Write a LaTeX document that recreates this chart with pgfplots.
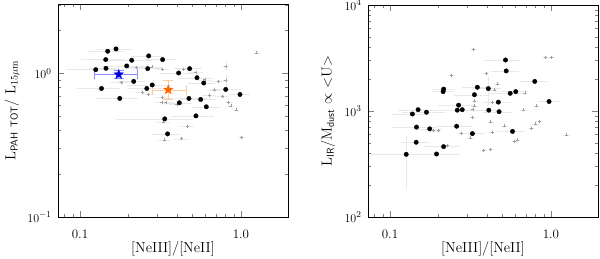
\documentclass[border=0pt]{standalone}
\usepackage{pgfplots}
\pgfplotsset{compat=1.18}
\usepackage{pgfplotstable}

\pgfdeclareplotmark{fstar}{%
  \pgfpathmoveto{\pgfpointpolar{90}{\pgfplotmarksize}}%
  \pgfpathlineto{\pgfpointpolar{126}{0.42\pgfplotmarksize}}%
  \pgfpathlineto{\pgfpointpolar{162}{\pgfplotmarksize}}%
  \pgfpathlineto{\pgfpointpolar{198}{0.42\pgfplotmarksize}}%
  \pgfpathlineto{\pgfpointpolar{234}{\pgfplotmarksize}}%
  \pgfpathlineto{\pgfpointpolar{270}{0.42\pgfplotmarksize}}%
  \pgfpathlineto{\pgfpointpolar{306}{\pgfplotmarksize}}%
  \pgfpathlineto{\pgfpointpolar{342}{0.42\pgfplotmarksize}}%
  \pgfpathlineto{\pgfpointpolar{18}{\pgfplotmarksize}}%
  \pgfpathlineto{\pgfpointpolar{54}{0.42\pgfplotmarksize}}%
  \pgfpathclose
  \pgfusepathqfillstroke
}

\pgfplotstableread{
x y ex ey
0.1675 1.48 0.26 0.03
0.1486 1.425 0.25 0.03
0.267 1.323 0.22 0.03
0.1445 1.247 0.3 0.03
0.2095 1.233 0.35 0.03
0.326 1.247 0.22 0.03
0.195 1.126 0.3 0.03
0.145 1.084 0.22 0.03
0.1252 1.061 0.35 0.03
0.2634 1.079 0.25 0.03
0.48 1.079 0.2 0.03
0.41 1.006 0.25 0.03
0.533 0.933 0.25 0.04
0.2156 0.879 0.2 0.04
0.587 0.857 0.2 0.04
0.281 0.83 0.3 0.04
0.26 0.785 0.25 0.04
0.136 0.785 0.3 0.04
0.804 0.773 0.2 0.04
0.986 0.713 0.15 0.04
0.1765 0.669 0.3 0.04
0.475 0.669 0.3 0.04
0.562 0.658 0.25 0.04
0.414 0.624 0.2 0.04
0.609 0.585 0.2 0.04
0.525 0.506 0.3 0.04
0.336 0.482 0.5 0.05
0.35 0.379 0.2 0.05
}\leftblack

\pgfplotstableread{
x y ex ey
1.25 1.39 0.05 0.02
0.225 1.10 0.15 0.03
0.279 1.11 0.15 0.03
0.326 1.07 0.1 0.03
0.1815 0.865 0.15 0.04
0.244 0.736 0.1 0.04
0.266 0.718 0.1 0.04
0.324 0.679 0.1 0.04
0.342 0.627 0.1 0.04
0.323 0.627 0.1 0.04
0.329 0.459 0.1 0.04
0.334 0.344 0.1 0.04
0.807 1.12 0.05 0.08
0.438 1.07 0.1 0.03
0.525 1.016 0.1 0.03
0.597 0.904 0.1 0.04
0.723 0.879 0.1 0.04
0.804 0.899 0.05 0.1
0.68 0.769 0.1 0.04
0.636 0.706 0.1 0.04
0.77 0.69 0.1 0.04
0.399 0.611 0.1 0.04
0.834 0.627 0.05 0.04
0.867 0.594 0.05 0.04
0.94 0.557 0.05 0.04
0.464 0.426 0.1 0.04
0.426 0.351 0.1 0.04
1.01 0.357 0.05 0.04
}\leftgray

\pgfplotstableread{
x y ex ey
0.522 3027 0.25 0.08
0.527 2388 0.2 0.06
0.793 1901 0.2 0.06
0.2154 1610 0.15 0.05
0.2138 1523 0.15 0.05
0.349 1675 0.2 0.05
0.408 1627 0.2 0.3
0.3347 1425 0.25 0.05
0.558 1467 0.25 0.05
0.604 1523 0.2 0.05
0.2667 1135 0.25 0.05
0.471 1212 0.2 0.05
0.973 1229 0.15 0.05
0.1495 1029 0.25 0.05
0.1377 936 0.25 0.05
0.1685 974 0.3 0.05
0.2617 1018 0.3 0.05
0.281 1029 0.25 0.05
0.411 1018 0.2 0.05
0.476 985 0.2 0.05
0.1461 705 0.3 0.05
0.1765 679 0.2 0.05
0.2593 718 0.25 0.05
0.325 612 0.2 0.05
0.577 642 0.2 0.05
0.1454 507 0.2 0.05
0.2154 461 0.25 0.05
0.1261 390 0.4 0.53
0.1945 393 0.4 0.05
}\rightblack

\pgfplotstableread{
x y ex ey
0.33 3834 0.05 0.05
0.2404 2171 0.05 0.05
0.922 3212 0.05 0.03
1.003 3212 0.05 0.03
0.395 2253 0.05 0.05
0.464 1806 0.05 0.05
0.447 1581 0.05 0.05
0.688 1480 0.05 0.05
0.812 1117 0.05 0.05
0.672 1022 0.05 0.05
0.335 1248 0.05 0.05
0.335 1117 0.05 0.05
0.327 1038 0.05 0.05
0.324 876 0.05 0.05
0.4305 1202 0.05 0.05
0.4205 789 0.05 0.05
0.515 722 0.05 0.05
0.843 801 0.05 0.05
0.8 755 0.05 0.05
0.753 691 0.05 0.05
0.4305 632 0.05 0.05
0.619 535 0.05 0.05
0.591 515 0.05 0.05
0.316 559 0.05 0.05
0.277 619 0.05 0.05
0.382 425 0.05 0.05
0.4205 434 0.05 0.05
1.243 597 0.05 0.05
0.1988 652 0.05 0.05
0.185 652 0.05 0.05
0.228 471 0.05 0.05
}\rightgray

\begin{document}
\begin{tikzpicture}
\useasboundingbox (0,0) rectangle (600pt,259pt);

\begin{axis}[at={(58pt,42pt)}, anchor=south west,
  scale only axis, width=230pt, height=213pt,
  xmode=log, ymode=log, xmin=0.073, xmax=1.96,
  xtick={0.1,1}, xticklabels={0.1,1.0},
  minor xtick={0.08,0.09,0.2,0.3,0.4,0.5,0.6,0.7,0.8,0.9},
  ymin=0.1, ymax=3.04, ytick={0.1,1},
  minor ytick={0.2,0.3,0.4,0.5,0.6,0.7,0.8,0.9,2,3},
  tick align=inside, major tick length=6pt, minor tick length=3pt,
  axis line style={line width=0.7pt},
  tick label style={font=\fontsize{13}{15}\selectfont},
  label style={font=\fontsize{14.5}{17}\selectfont},
  xticklabel style={yshift=-9pt},
  yticklabel style={xshift=-3pt},
  xlabel={[NeIII]/[NeII]},
  x label style={at={(axis description cs:0.5,0)}, anchor=center, yshift=-32pt},
  ylabel={L$_{\mathsf{PAH\ TOT}}$/ L$_{15\mu\mathrm{m}}$},
  y label style={at={(axis description cs:-0.2,0.5)}, anchor=center},
]
\addplot[only marks, mark=+, mark size=1.5pt, mark options={draw=gray!75, line width=0.4pt},
  error bars/x dir=both, error bars/y dir=both,
  error bars/x explicit relative, error bars/y explicit relative,
  error bars/error bar style={gray!15, line width=0.3pt}, error bars/error mark=none]
  table[x=x, y=y, x error=ex, y error=ey] {\leftgray};
\addplot[only marks, mark=*, mark size=2.2pt, mark options={fill=black, draw=black},
  error bars/x dir=both, error bars/y dir=both,
  error bars/x explicit relative, error bars/y explicit relative,
  error bars/error bar style={gray!18, line width=0.35pt}, error bars/error mark=none]
  table[x=x, y=y, x error=ex, y error=ey] {\leftblack};
\addplot[only marks, mark=fstar, mark size=5pt, mark options={draw=blue!85!black, fill=blue!85!black, line width=0.3pt},
  error bars/x dir=both, error bars/y dir=both, error bars/x explicit, error bars/y explicit,
  error bars/error bar style={blue!45, line width=0.5pt}]
  coordinates {(0.174,0.984) +- (0.052,0.06)};
\addplot[only marks, mark=fstar, mark size=5pt, mark options={draw=orange!80!red, fill=orange!80!red, line width=0.3pt},
  error bars/x dir=both, error bars/y dir=both, error bars/x explicit, error bars/y explicit,
  error bars/error bar style={orange!40, line width=0.5pt}]
  coordinates {(0.3534,0.769) += (0.102,0.12) -= (0.074,0.107)};
\end{axis}

\begin{axis}[at={(368pt,42pt)}, anchor=south west,
  scale only axis, width=230pt, height=212pt,
  xmode=log, ymode=log, xmin=0.073, xmax=1.96,
  xtick={0.1,1}, xticklabels={0.1,1.0},
  minor xtick={0.08,0.09,0.2,0.3,0.4,0.5,0.6,0.7,0.8,0.9},
  ymin=100, ymax=10000, ytick={100,1000,10000},
  minor ytick={200,300,400,500,600,700,800,900,2000,3000,4000,5000,6000,7000,8000,9000},
  tick align=inside, major tick length=6pt, minor tick length=3pt,
  axis line style={line width=0.7pt},
  tick label style={font=\fontsize{13}{15}\selectfont},
  label style={font=\fontsize{14.5}{17}\selectfont},
  xticklabel style={yshift=-9pt},
  yticklabel style={xshift=-3pt},
  xlabel={[NeIII]/[NeII]},
  x label style={at={(axis description cs:0.5,0)}, anchor=center, yshift=-32pt},
  ylabel={L$_{\mathsf{IR}}$/M$_{\mathsf{dust}}$ $\propto$ $<$U$>$},
  y label style={at={(axis description cs:-0.174,0.5)}, anchor=center},
]
\addplot[only marks, mark=+, mark size=1.5pt, mark options={draw=gray!75, line width=0.4pt},
  error bars/x dir=both, error bars/y dir=both,
  error bars/x explicit relative, error bars/y explicit relative,
  error bars/error bar style={gray!15, line width=0.3pt}, error bars/error mark=none]
  table[x=x, y=y, x error=ex, y error=ey] {\rightgray};
\addplot[only marks, mark=*, mark size=2.2pt, mark options={fill=black, draw=black},
  error bars/x dir=both, error bars/y dir=both,
  error bars/x explicit relative, error bars/y explicit relative,
  error bars/error bar style={gray!18, line width=0.35pt}, error bars/error mark=none]
  table[x=x, y=y, x error=ex, y error=ey] {\rightblack};
\end{axis}
\end{tikzpicture}
\end{document}
